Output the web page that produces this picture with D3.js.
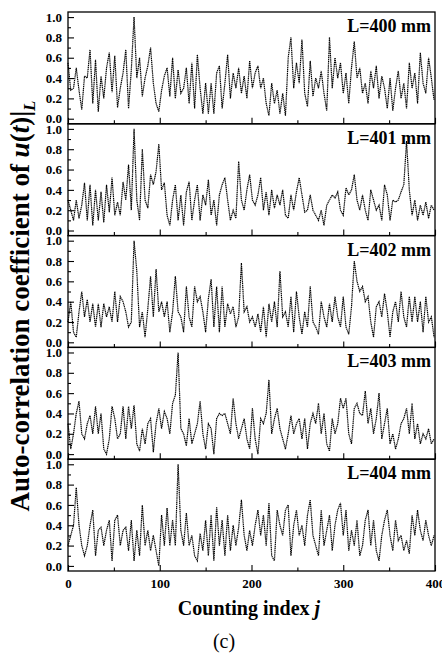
<!DOCTYPE html>
<meta charset="utf-8">
<script src="https://d3js.org/d3.v7.min.js"></script>
<style>
  body { margin: 0; background: #fff; }
  svg { display: block; }
  text { font-family: "Liberation Serif", "Times New Roman", serif; }
</style>
<div id="chart"></div>
<script>
// one sample every 3 counting indices (j = 0, 3, ..., 399)
const step = 3;
const panelLabels = ["L=400 mm", "L=401 mm", "L=402 mm", "L=403 mm", "L=404 mm"];
const xTicks = [0, 100, 200, 300, 400];
const xMinor = [50, 150, 250, 350];
const yTicks = [0, 0.2, 0.4, 0.6, 0.8, 1.0];
const yMinor = [0.1, 0.3, 0.5, 0.7, 0.9];

const l400 = [
  0.55,0.28,0.30,0.50,0.28,0.09,0.42,0.40,0.68,0.15,
  0.58,0.07,0.42,0.20,0.50,0.65,0.26,0.62,0.11,0.30,
  0.45,0.68,0.10,0.48,1.00,0.40,0.60,0.22,0.40,0.52,
  0.70,0.35,0.15,0.07,0.28,0.42,0.50,0.22,0.60,0.20,
  0.48,0.25,0.30,0.50,0.15,0.55,0.10,0.63,0.30,0.05,
  0.35,0.05,0.35,0.05,0.45,0.52,0.10,0.35,0.63,0.20,
  0.45,0.30,0.50,0.25,0.42,0.20,0.57,0.30,0.45,0.52,
  0.30,0.40,0.15,0.03,0.35,0.15,0.28,0.05,0.25,0.03,
  0.60,0.80,0.30,0.55,0.35,0.78,0.25,0.12,0.57,0.22,
  0.40,0.30,0.47,0.25,0.08,0.80,0.30,0.60,0.40,0.55,
  0.25,0.45,0.15,0.50,0.76,0.40,0.50,0.25,0.35,0.15,
  0.47,0.30,0.52,0.20,0.42,0.30,0.10,0.40,0.08,0.30,
  0.47,0.20,0.35,0.10,0.55,0.30,0.45,0.15,0.65,0.35,
  0.25,0.60,0.40,0.18
];
const l401 = [
  0.30,0.20,0.10,0.30,0.12,0.25,0.47,0.10,0.45,0.05,
  0.40,0.10,0.38,0.08,0.45,0.18,0.52,0.15,0.28,0.15,
  0.48,0.30,0.65,0.20,1.00,0.30,0.10,0.80,0.30,0.22,
  0.55,0.45,0.58,0.85,0.40,0.47,0.15,0.05,0.30,0.45,
  0.10,0.35,0.05,0.38,0.48,0.10,0.30,0.45,0.10,0.35,
  0.25,0.50,0.15,0.30,0.05,0.35,0.45,0.52,0.30,0.10,
  0.20,0.12,0.68,0.30,0.20,0.40,0.55,0.30,0.25,0.35,
  0.52,0.20,0.38,0.15,0.40,0.22,0.35,0.25,0.40,0.15,
  0.12,0.35,0.20,0.38,0.52,0.35,0.18,0.20,0.35,0.20,
  0.15,0.10,0.20,0.05,0.25,0.30,0.35,0.32,0.38,0.20,
  0.15,0.42,0.35,0.40,0.55,0.30,0.20,0.35,0.20,0.10,
  0.40,0.30,0.20,0.25,0.10,0.45,0.35,0.10,0.30,0.28,
  0.30,0.38,0.45,0.88,0.40,0.15,0.30,0.10,0.25,0.15,
  0.28,0.12,0.25,0.20
];
const l402 = [
  0.20,0.40,0.10,0.05,0.30,0.50,0.25,0.42,0.20,0.38,
  0.15,0.38,0.15,0.38,0.25,0.35,0.20,0.50,0.20,0.45,
  0.40,0.30,0.15,0.20,1.00,0.70,0.15,0.30,0.05,0.33,
  0.65,0.25,0.72,0.30,0.40,0.25,0.40,0.10,0.30,0.65,
  0.30,0.25,0.10,0.55,0.25,0.15,0.55,0.40,0.45,0.30,
  0.10,0.43,0.62,0.15,0.55,0.10,0.55,0.15,0.38,0.28,
  0.35,0.15,0.25,0.78,0.30,0.35,0.20,0.25,0.15,0.28,
  0.10,0.35,0.05,0.38,0.20,0.40,0.15,0.70,0.25,0.30,
  0.15,0.45,0.10,0.50,0.25,0.08,0.30,0.15,0.55,0.20,
  0.15,0.08,0.40,0.25,0.15,0.38,0.20,0.45,0.25,0.15,
  0.45,0.15,0.08,0.35,0.80,0.60,0.50,0.55,0.40,0.45,
  0.20,0.05,0.35,0.40,0.25,0.48,0.30,0.05,0.30,0.40,
  0.20,0.50,0.25,0.15,0.45,0.20,0.45,0.20,0.40,0.10,
  0.45,0.20,0.25,0.05
];
const l403 = [
  0.30,0.05,0.20,0.40,0.52,0.20,0.15,0.30,0.38,0.20,
  0.47,0.20,0.40,0.05,0.00,0.15,0.47,0.35,0.15,0.20,
  0.47,0.15,0.47,0.25,0.48,0.10,0.03,0.25,0.10,0.30,
  0.35,0.02,0.30,0.45,0.25,0.42,0.35,0.20,0.50,0.58,
  1.00,0.25,0.20,0.08,0.35,0.10,0.20,0.30,0.52,0.20,
  0.05,0.30,0.25,0.00,0.35,0.40,0.38,0.40,0.30,0.20,
  0.55,0.30,0.15,0.25,0.35,0.15,0.05,0.45,0.15,0.00,
  0.35,0.30,0.40,0.73,0.20,0.35,0.45,0.25,0.15,0.05,
  0.20,0.38,0.20,0.30,0.35,0.15,0.35,0.05,0.30,0.40,
  0.30,0.50,0.20,0.40,0.10,0.03,0.35,0.20,0.30,0.55,
  0.45,0.55,0.20,0.10,0.45,0.50,0.40,0.38,0.62,0.30,
  0.45,0.20,0.35,0.60,0.15,0.30,0.45,0.10,0.20,0.05,
  0.15,0.30,0.35,0.45,0.20,0.50,0.15,0.30,0.10,0.20,
  0.15,0.25,0.10,0.15
];
const l404 = [
  0.20,0.30,0.40,0.77,0.40,0.20,0.10,0.20,0.40,0.55,
  0.10,0.35,0.38,0.20,0.35,0.45,0.05,0.45,0.50,0.20,
  0.35,0.38,0.15,0.45,0.05,0.35,0.10,0.60,0.20,0.35,
  0.15,0.30,0.15,0.00,0.50,0.20,0.57,0.20,0.45,0.20,
  1.00,0.35,0.20,0.52,0.20,0.30,0.10,0.05,0.32,0.15,
  0.45,0.10,0.50,0.05,0.58,0.20,0.45,0.10,0.50,0.15,
  0.40,0.20,0.38,0.65,0.30,0.15,0.35,0.20,0.40,0.55,
  0.30,0.50,0.20,0.62,0.10,0.05,0.55,0.40,0.30,0.55,
  0.60,0.10,0.40,0.55,0.30,0.40,0.20,0.50,0.65,0.30,
  0.20,0.10,0.55,0.20,0.35,0.50,0.15,0.40,0.55,0.62,
  0.30,0.55,0.15,0.35,0.20,0.45,0.10,0.20,0.45,0.55,
  0.20,0.45,0.15,0.05,0.30,0.45,0.55,0.30,0.15,0.45,
  0.25,0.30,0.15,0.25,0.12,0.50,0.30,0.55,0.35,0.25,
  0.45,0.30,0.20,0.30
];
const series = [l400, l401, l402, l403, l404];

const width = 442, height = 657;
const plotLeft = 68, plotRight = 435, plotTop = 12;
const panelH = 111.8;

const svg = d3.select("#chart")
  .append("svg")
    .attr("width", width)
    .attr("height", height);

svg.append("rect").attr("width", width).attr("height", height).attr("fill", "#fff");

const x = d3.scaleLinear().domain([0, 400]).range([plotLeft, plotRight]);

series.forEach(function(vals, i) {
  const top = plotTop + i * panelH;
  const y = d3.scaleLinear().domain([-0.05, 1.05]).range([top + panelH, top]);
  const g = svg.append("g");

  // the signal, drawn as a fine dotted line
  g.append("path")
    .datum(vals)
    .attr("fill", "none")
    .attr("stroke", "#000")
    .attr("stroke-width", 1.2)
    .attr("stroke-dasharray", "1.3,0.6")
    .attr("d", d3.line().x((d, k) => x(k * step)).y(d => y(d)));

  // y ticks point inward
  g.append("g")
    .attr("transform", `translate(${plotLeft},0)`)
    .call(d3.axisLeft(y).tickValues(yTicks).tickSize(-6).tickPadding(6)
      .tickFormat(d3.format(".1f")));
  g.append("g")
    .attr("transform", `translate(${plotLeft},0)`)
    .call(d3.axisLeft(y).tickValues(yMinor).tickSize(-3).tickFormat(""));

  // x ticks on the bottom of each panel, labels only on the last one
  g.append("g")
    .attr("transform", `translate(0,${top + panelH})`)
    .call(d3.axisBottom(x).tickValues(xTicks).tickSize(-6).tickPadding(8)
      .tickFormat(i === series.length - 1 ? d3.format("d") : ""));
  g.append("g")
    .attr("transform", `translate(0,${top + panelH})`)
    .call(d3.axisBottom(x).tickValues(xMinor).tickSize(-3.5).tickFormat(""));

  g.selectAll(".domain").remove();
  g.selectAll(".tick line").attr("stroke", "#000").attr("stroke-width", 1.1);
  g.selectAll(".tick text")
    .attr("fill", "#000")
    .style("font-size", "13px")
    .style("font-weight", "bold");

  // frame
  g.append("rect")
    .attr("x", plotLeft).attr("y", top)
    .attr("width", plotRight - plotLeft).attr("height", panelH)
    .attr("fill", "none").attr("stroke", "#000").attr("stroke-width", 1.3);

  g.append("text")
    .attr("x", plotRight - 4)
    .attr("y", top + 20)
    .attr("text-anchor", "end")
    .style("font-size", "18px")
    .style("font-weight", "bold")
    .text(panelLabels[i]);
});

// axis titles
const yTitle = svg.append("text")
  .attr("transform", "translate(29,306) rotate(-90)")
  .attr("text-anchor", "middle")
  .style("font-size", "27px")
  .style("font-weight", "bold");
yTitle.append("tspan").text("Auto-correlation coefficient of ");
yTitle.append("tspan").style("font-style", "italic").text("u");
yTitle.append("tspan").text("(");
yTitle.append("tspan").style("font-style", "italic").text("t");
yTitle.append("tspan").text(")|");
yTitle.append("tspan").style("font-style", "italic").style("font-size", "17px")
  .attr("dy", 6).text("L");

const xTitle = svg.append("text")
  .attr("x", 249)
  .attr("y", 615)
  .attr("text-anchor", "middle")
  .style("font-size", "20px")
  .style("font-weight", "bold");
xTitle.append("tspan").text("Counting index ");
xTitle.append("tspan").style("font-style", "italic").text("j");

svg.append("text")
  .attr("x", 224)
  .attr("y", 648)
  .attr("text-anchor", "middle")
  .style("font-size", "20px")
  .text("(c)");
</script>
